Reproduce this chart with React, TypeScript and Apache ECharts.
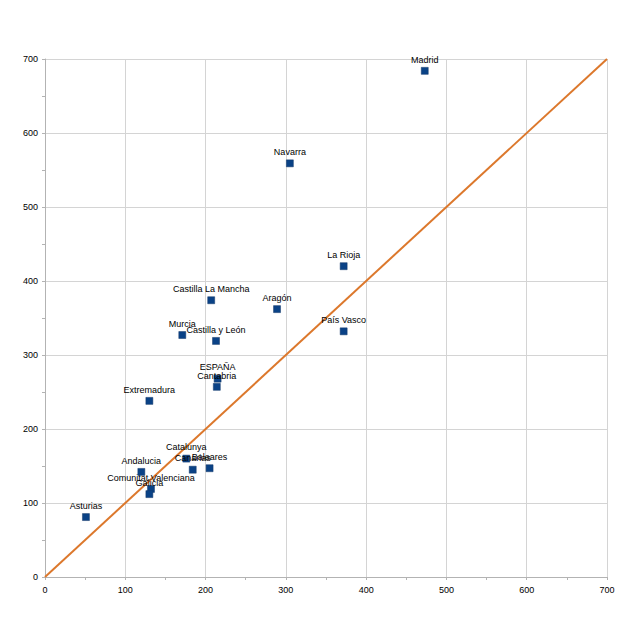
import React, { useEffect, useRef } from "react";
import * as echarts from "echarts";

const regions = [
  "Madrid", "Navarra", "La Rioja", "Aragón", "País Vasco", "Castilla La Mancha",
  "Murcia", "Castilla y León", "ESPAÑA", "Cantabria", "Extremadura", "Catalunya",
  "Canarias", "Baleares", "Andalucia", "Comunitat Valenciana", "Galicia", "Asturias",
];
const xValues = [473, 305, 372, 289, 372, 207, 171, 213, 215, 214, 130, 176, 184, 205, 120, 132, 130, 51];
const yValues = [684, 559, 420, 362, 332, 374, 327, 319, 268, 257, 238, 160, 145, 147, 142, 119, 112, 81];
const diagonal = [[0, 0], [700, 700]];

export default function App() {
  const ref = useRef<HTMLDivElement>(null);
  useEffect(() => {
    if (!ref.current) return;
    const chart = echarts.init(ref.current, undefined, { renderer: "svg" });
    const axisCommon = {
      type: "value" as const,
      min: 0,
      max: 700,
      interval: 100,
      axisLine: { show: true, lineStyle: { color: "#b3b3b3", width: 1 } },
      axisTick: { show: true, length: 3, inside: false, lineStyle: { color: "#b3b3b3" } },
      minorTick: { show: true, splitNumber: 2, length: 3, lineStyle: { color: "#b3b3b3" } },
      splitLine: { show: true, lineStyle: { color: "#d4d4d4", width: 1 } },
      axisLabel: { color: "#000", fontSize: 9, fontFamily: "Liberation Sans, Arial, sans-serif" },
    };
    chart.setOption({
      animation: false,
      backgroundColor: "#fff",
      grid: { left: 45, right: 33, top: 59, bottom: 42, containLabel: false },
      xAxis: { ...axisCommon, axisLabel: { ...axisCommon.axisLabel, margin: 8 } },
      yAxis: { ...axisCommon, axisLabel: { ...axisCommon.axisLabel, margin: 7 } },
      series: [
        {
          type: "line",
          data: diagonal,
          symbol: "none",
          lineStyle: { color: "#dc782c", width: 2 },
          z: 1,
        },
        {
          type: "scatter",
          symbol: "rect",
          symbolSize: 7,
          z: 3,
          data: regions.map((n, i) => ({ name: n, value: [xValues[i], yValues[i]] })),
          itemStyle: { color: "#0a4286", borderColor: "#163a6b", borderWidth: 0.5, opacity: 1 },
          label: {
            show: true,
            position: "top",
            distance: 3,
            formatter: (p: any) => p.name,
            color: "#000",
            opacity: 1,
            fontSize: 9,
            fontFamily: "Liberation Sans, Arial, sans-serif",
          },
        },
      ],
    });
    return () => chart.dispose();
  }, []);
  return <div ref={ref} style={{ width: 640, height: 619, position: "absolute", left: 0, top: 0 }} />;
}
